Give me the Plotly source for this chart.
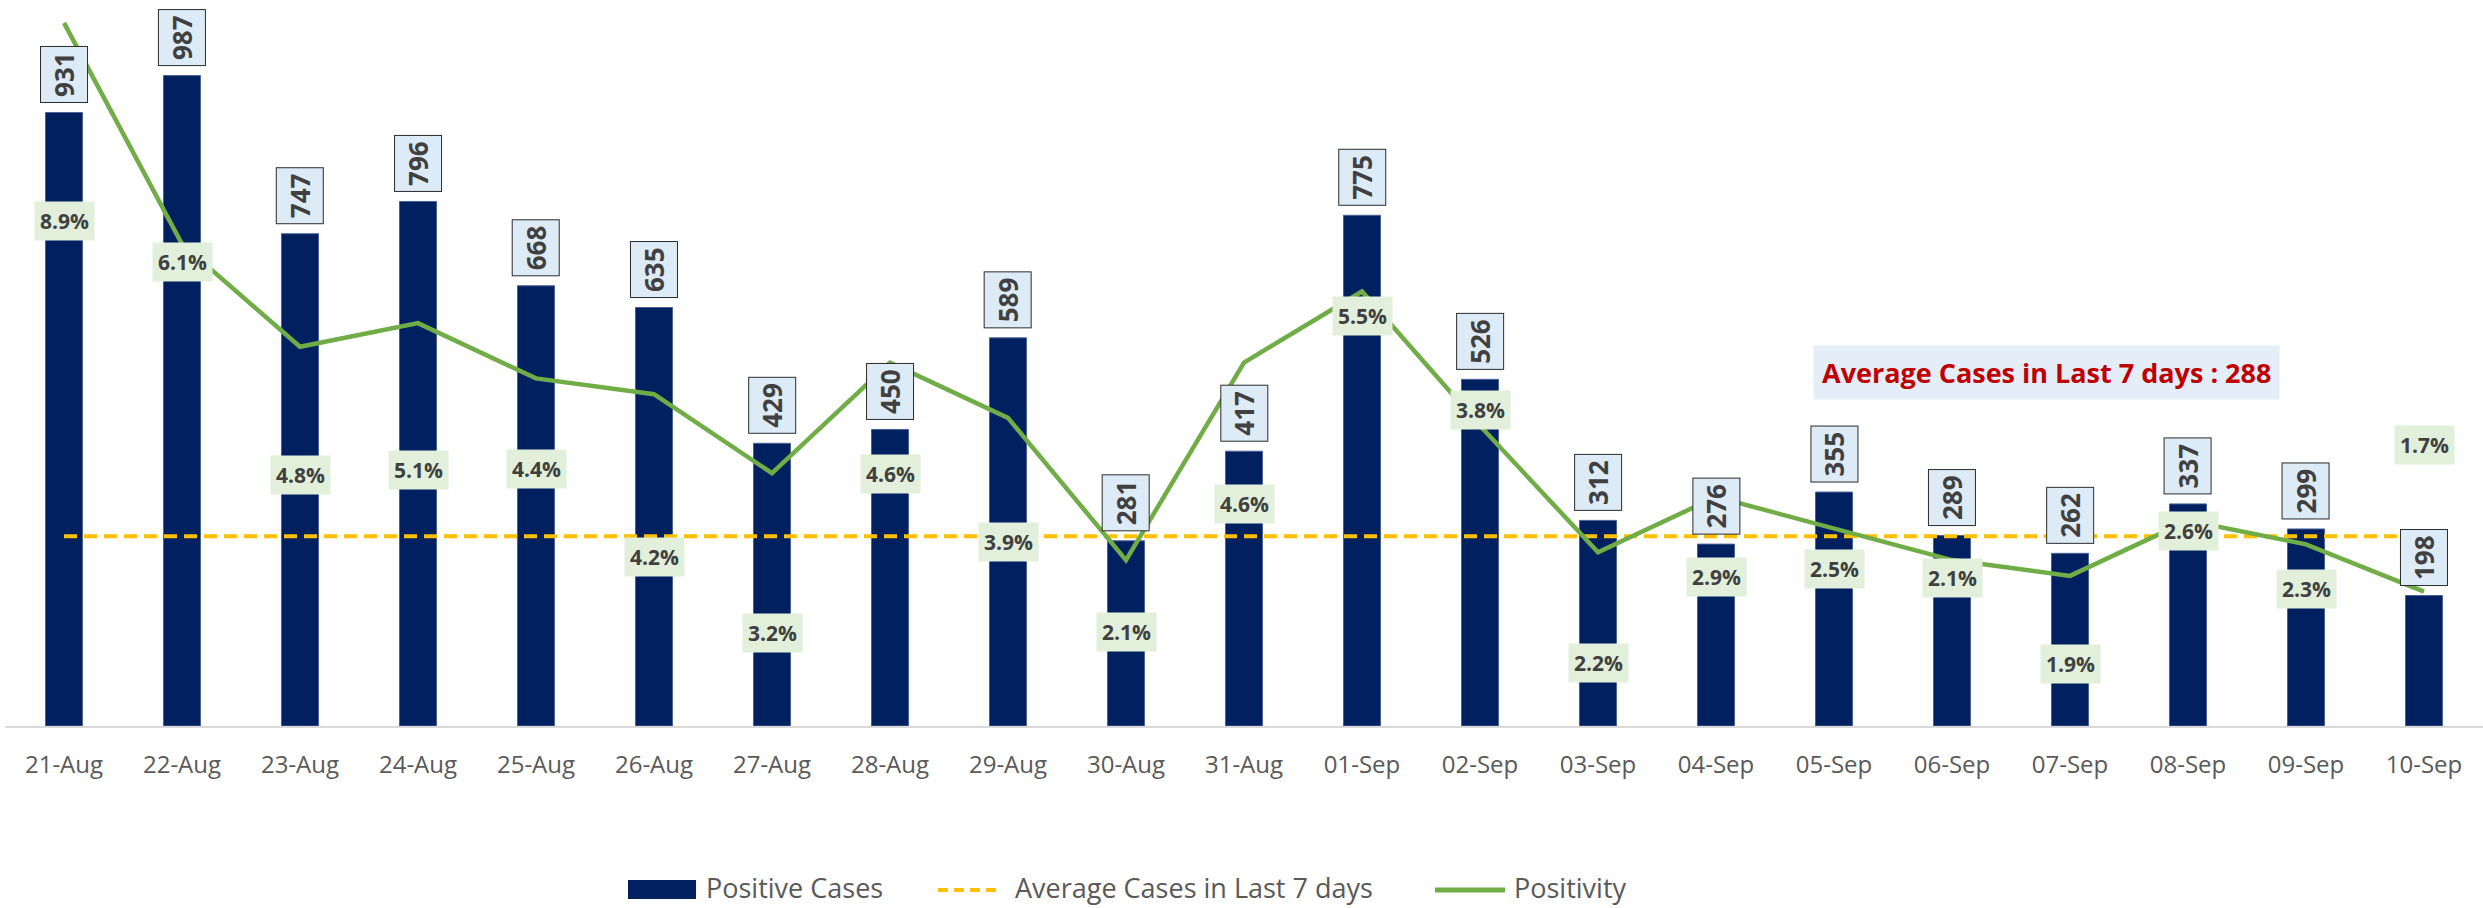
import plotly.graph_objects as go

# ---------------- data ----------------
dates = ["21-Aug", "22-Aug", "23-Aug", "24-Aug", "25-Aug", "26-Aug", "27-Aug",
         "28-Aug", "29-Aug", "30-Aug", "31-Aug", "01-Sep", "02-Sep", "03-Sep",
         "04-Sep", "05-Sep", "06-Sep", "07-Sep", "08-Sep", "09-Sep", "10-Sep"]
positive_cases = [931, 987, 747, 796, 668, 635, 429, 450, 589, 281, 417,
                  775, 526, 312, 276, 355, 289, 262, 337, 299, 198]
positivity = [8.9, 6.1, 4.8, 5.1, 4.4, 4.2, 3.2, 4.6, 3.9, 2.1, 4.6,
              5.5, 3.8, 2.2, 2.9, 2.5, 2.1, 1.9, 2.6, 2.3, 1.7]
avg_last_7_days = 288

# ---------------- style / layout constants ----------------
# vertical pixel offset of each positivity label below its point (style only)
pct_label_drop = [198, 18, 128, 147, 91, 163, 160, 111, 124, 72, 141,
                  24, -16, 111, 80, 40, 18, 88, 10, 45, -147]

W, H = 2483, 908
ML, MR, MT, MB = 5, 0, 0, 182
PLOT_W = W - ML - MR
PLOT_H = H - MT - MB
CASES_PX = 0.659      # pixels per case
PCT_PX = 79.0         # pixels per percent

NAVY = "#002060"
GOLD = "#FFC000"
GREEN = "#70AD47"
TXT = "#404040"
FONT = "Open Sans"


def px_x(px):
    return (px - ML) / PLOT_W


def px_y(py):
    return (H - MB - py) / PLOT_H


fig = go.Figure()

fig.add_trace(go.Bar(
    x=dates, y=positive_cases, name="Positive Cases",
    marker=dict(color=NAVY, line=dict(color="#4A6296", width=1)),
    hoverinfo="x+y",
))
fig.add_trace(go.Scatter(
    x=dates, y=[avg_last_7_days] * len(dates), name="Average Cases in Last 7 days",
    mode="lines", line=dict(color=GOLD, width=4, dash="13px,7px"),
))
fig.add_trace(go.Scatter(
    x=dates, y=positivity, name="Positivity", yaxis="y2",
    mode="lines", line=dict(color=GREEN, width=4.5),
))

annotations = []
# bar value labels (rotated, boxed)
for d, v in zip(dates, positive_cases):
    annotations.append(dict(
        x=d, y=v, xref="x", yref="y", text=f"<b>{v}</b>", showarrow=False,
        textangle=-90, xanchor="center", yanchor="bottom", yshift=9,
        font=dict(family=FONT, size=26, color=TXT),
        bgcolor="#DDEBF7", bordercolor="#2B2B2B", borderwidth=1, borderpad=5,
    ))
# positivity labels
for d, v, dy in zip(dates, positivity, pct_label_drop):
    annotations.append(dict(
        x=d, y=v, xref="x", yref="y2", text=f"<b>{v:.1f}%</b>", showarrow=False,
        xanchor="center", yanchor="middle", yshift=-dy,
        font=dict(family=FONT, size=21, color=TXT),
        bgcolor="#E2EFDA", borderpad=5,
    ))
# average callout box
annotations.append(dict(
    x=px_x(2046), y=px_y(372), xref="paper", yref="paper",
    text=f"<b>Average Cases in Last 7 days : {avg_last_7_days}</b>",
    showarrow=False, xanchor="center", yanchor="middle",
    font=dict(family=FONT, size=27, color="#C00000"),
    bgcolor="#E3EEF8", borderpad=8,
))

# custom legend
LEG_Y = 887
legend_items = [(704, "Positive Cases"), (1013, "Average Cases in Last 7 days"),
                (1512, "Positivity")]
for lx, name in legend_items:
    annotations.append(dict(
        x=px_x(lx), y=px_y(LEG_Y), xref="paper", yref="paper", text=name,
        showarrow=False, xanchor="left", yanchor="middle",
        font=dict(family=FONT, size=27, color="#595959"),
    ))

shapes = [
    dict(type="rect", xref="paper", yref="paper",
         x0=px_x(628), x1=px_x(696), y0=px_y(899), y1=px_y(880),
         fillcolor=NAVY, line=dict(width=0)),
    dict(type="line", xref="paper", yref="paper",
         x0=px_x(938), x1=px_x(998), y0=px_y(890), y1=px_y(890),
         line=dict(color=GOLD, width=4, dash="10px,6px")),
    dict(type="line", xref="paper", yref="paper",
         x0=px_x(1435), x1=px_x(1505), y0=px_y(890), y1=px_y(890),
         line=dict(color=GREEN, width=5)),
]

fig.update_layout(
    width=W, height=H,
    margin=dict(l=ML, r=MR, t=MT, b=MB, pad=0),
    paper_bgcolor="white", plot_bgcolor="white",
    showlegend=False, bargap=0.686,
    font=dict(family=FONT, color=TXT),
    xaxis=dict(type="category", range=[-0.5, len(dates) - 0.5],
               showline=True, linecolor="#D9D9D9", linewidth=2,
               ticks="", showgrid=False, zeroline=False,
               tickfont=dict(family=FONT, size=24, color="#595959"),
               ticklabelstandoff=16),
    yaxis=dict(range=[0, PLOT_H / CASES_PX], visible=False, showgrid=False),
    yaxis2=dict(range=[0, PLOT_H / PCT_PX], overlaying="y", side="right",
                visible=False, showgrid=False),
    annotations=annotations, shapes=shapes,
)

fig.write_html("out.html", config={"displayModeBar": False},
               post_script="document.body.style.margin='0';document.body.style.overflow='hidden';")
